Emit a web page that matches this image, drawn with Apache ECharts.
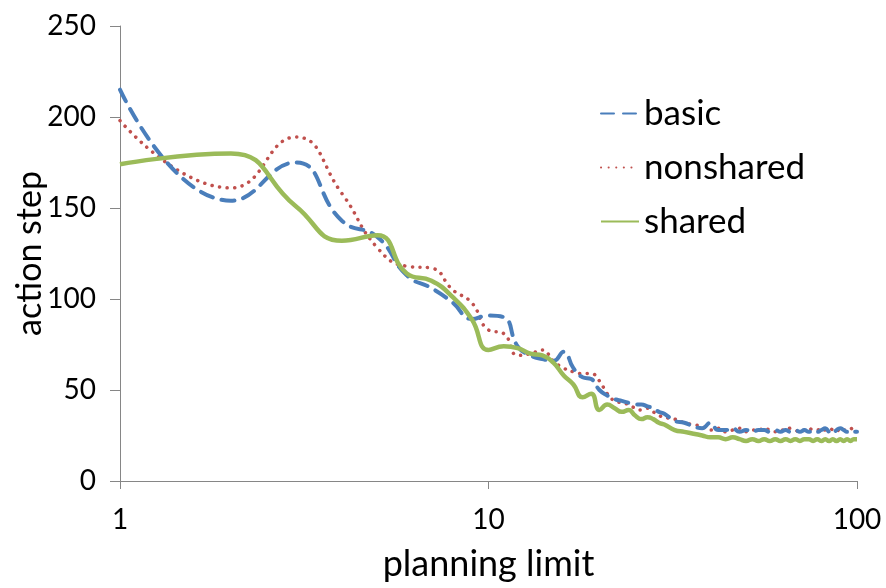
<!DOCTYPE html>
<html>
<head>
<meta charset="utf-8">
<script src="https://cdn.jsdelivr.net/npm/echarts@6/dist/echarts.min.js"></script>
<style>
  html, body { margin: 0; padding: 0; background: #fff; }
  #chart { width: 886px; height: 588px; }
</style>
</head>
<body>
<div id="chart"></div>
<script>
// planning limit values (x, log scale)
const limits = [
  1, 2, 3, 4, 5, 6, 7, 8, 9, 10, 11, 12, 13, 14, 15, 16, 17, 18, 19, 20,
  21, 22, 23, 24, 25, 26, 27, 28, 29, 30,
  32, 34, 36, 38, 40, 42, 44, 46, 48, 50, 52, 54, 56, 58, 60, 62, 64, 66, 68, 70,
  72, 74, 76, 78, 80, 82, 84, 86, 88, 90, 92, 94, 96, 98, 100
];

const basic = [
  215, 154, 175, 143, 134, 113, 106, 98, 89, 91, 90, 74, 69, 67, 66, 71, 62, 57, 56, 50,
  47, 45, 44, 43, 42, 42, 41, 40, 38, 37,
  33, 32, 30, 29, 32, 28, 28, 29, 27, 28, 27, 28, 28, 27, 28, 27, 28, 27, 28, 27,
  28, 27, 28, 27, 28, 29, 27, 26, 28, 29, 28, 27, 28, 27, 27
];

const nonshared = [
  198, 161, 189, 158, 128, 118, 117, 105, 98, 83, 81, 69, 70, 72, 66, 62, 60, 59, 59, 55,
  48, 44, 43, 42, 40, 39, 40, 38, 36, 35,
  34, 32, 31, 30, 28, 29, 27, 28, 29, 27, 28, 28, 29, 28, 27, 28, 28, 29, 28, 27,
  28, 29, 28, 28, 29, 28, 29, 28, 27, 29, 28, 28, 29, 28, 28
];

const shared = [
  174, 180, 151, 132, 135, 114, 110, 101, 89, 72, 74, 73, 70, 69, 65, 58, 53, 46, 48, 39,
  42, 40, 38, 39, 36, 34, 35, 34, 32, 31,
  28, 27, 26, 25, 24, 24, 23, 24, 23, 22, 23, 22, 23, 22, 23, 22, 23, 22, 23, 22,
  23, 23, 22, 23, 22, 23, 22, 23, 22, 23, 22, 23, 22, 23, 23
];

const seriesNames = ['basic', 'nonshared', 'shared'];
const yTicks = [0, 50, 100, 150, 200, 250];

const font = 'Lato, "Open Sans", sans-serif';
const axisGrey = '#868686';

function pairs(values) {
  return limits.map((x, i) => [x, values[i]]);
}

const chart = echarts.init(document.getElementById('chart'));

const option = {
  animation: false,
  backgroundColor: '#fff',
  grid: { left: 120, right: 29, top: 26, bottom: 107, outerBoundsMode: 'none', containLabel: false },
  legend: {
    orient: 'vertical',
    left: 595,
    top: 91,
    itemWidth: 38,
    itemHeight: 14,
    itemGap: 19,
    data: seriesNames,
    itemStyle: { opacity: 0 },
    textStyle: { fontFamily: font, fontSize: 35, color: '#000', padding: [0, 0, 0, 0] }
  },
  xAxis: {
    type: 'log',
    logBase: 10,
    min: 1,
    max: 100,
    name: 'planning limit',
    nameLocation: 'middle',
    nameGap: 65,
    nameMoveOverlap: false,
    nameTextStyle: { fontFamily: font, fontSize: 36, color: '#000' },
    axisLine: { show: true, lineStyle: { color: axisGrey, width: 1 } },
    axisTick: { show: true, length: 8, lineStyle: { color: axisGrey } },
    minorTick: { show: false },
    splitLine: { show: false },
    axisLabel: { fontFamily: font, fontSize: 28, color: '#000', margin: 25 }
  },
  yAxis: {
    type: 'value',
    min: yTicks[0],
    max: yTicks[yTicks.length - 1],
    interval: 50,
    name: 'action step',
    nameLocation: 'middle',
    nameRotate: 90,
    nameGap: 73,
    nameMoveOverlap: false,
    nameTextStyle: { fontFamily: font, fontSize: 34, color: '#000' },
    axisLine: { show: true, lineStyle: { color: axisGrey, width: 1 } },
    axisTick: { show: true, length: 10, lineStyle: { color: axisGrey } },
    splitLine: { show: false },
    axisLabel: { fontFamily: font, fontSize: 28, color: '#000', margin: 24 }
  },
  series: [
    {
      name: 'basic',
      type: 'line',
      smooth: 0.5,
      showSymbol: false,
      symbol: 'none',
      color: '#4A7EBB',
      lineStyle: { width: 4, color: '#4A7EBB', type: [13, 9], cap: 'round' },
      data: pairs(basic),
      z: 3
    },
    {
      name: 'nonshared',
      type: 'line',
      smooth: 0.5,
      showSymbol: false,
      symbol: 'none',
      color: '#C0504D',
      lineStyle: { width: 3.5, color: '#C0504D', type: [0.1, 7.5], cap: 'round' },
      data: pairs(nonshared),
      z: 2
    },
    {
      name: 'shared',
      type: 'line',
      smooth: 0.5,
      showSymbol: false,
      symbol: 'none',
      color: '#9BBB59',
      lineStyle: { width: 4.5, color: '#9BBB59', type: 'solid' },
      data: pairs(shared),
      z: 4
    }
  ]
};

chart.setOption(option);
</script>
</body>
</html>
